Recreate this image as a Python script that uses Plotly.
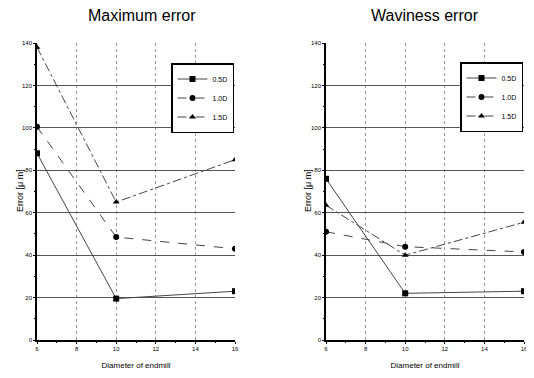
import plotly.graph_objects as go

diameters = [6, 10, 16]
series_names = ["0.5D", "1.0D", "1.5D"]

max_err_05 = [88, 19.5, 23]
max_err_10 = [100.5, 48.5, 43]
max_err_15 = [138, 65, 85]

wav_err_05 = [76, 22, 23]
wav_err_10 = [51, 44, 41.5]
wav_err_15 = [63.5, 40, 55.5]

y_ticks = [0, 20, 40, 60, 80, 100, 120, 140]
x_ticks = [6, 8, 10, 12, 14, 16]

symbols = ["square", "circle", "triangle-up"]
dashes = ["solid", "dash", "dashdot"]

# page body has an 8px margin; lay out in reference pixel coordinates
OFF = 8
W, H = 524, 378 - 2 * OFF


def px(x):
    return (x - OFF) / W


def py(y):
    return 1 - (y - OFF) / H


fig = go.Figure()

left = [max_err_05, max_err_10, max_err_15]
right = [wav_err_05, wav_err_10, wav_err_15]

for i, (name, vals) in enumerate(zip(series_names, left)):
    fig.add_trace(go.Scatter(
        x=diameters, y=vals, name=name, mode="lines+markers",
        line=dict(color="#444444", width=1, dash=dashes[i]),
        marker=dict(symbol=symbols[i], size=6, color="black"),
        xaxis="x", yaxis="y", legend="legend"))

for i, (name, vals) in enumerate(zip(series_names, right)):
    fig.add_trace(go.Scatter(
        x=diameters, y=vals, name=name, mode="lines+markers",
        line=dict(color="#444444", width=1, dash=dashes[i]),
        marker=dict(symbol=symbols[i], size=6, color="black"),
        xaxis="x2", yaxis="y2", legend="legend2"))

ydom = [py(340), py(43)]

axis_common = dict(
    showline=True, linecolor="black", linewidth=1.5, mirror=False,
    ticks="outside", ticklen=2, tickcolor="black",
    tickfont=dict(family="Liberation Sans", size=6, color="black"),
    zeroline=False, automargin=False, ticklabeloverflow="allow",
)

xcommon = dict(axis_common, range=[6, 16], tickvals=x_ticks,
               minor=dict(dtick=1, ticks="outside", ticklen=1.5, tickcolor="black", showgrid=False),
               showgrid=True, gridcolor="#999999", griddash="dot", gridwidth=1)
ycommon = dict(axis_common, range=[0, 140], tickvals=y_ticks,
               minor=dict(dtick=10, ticks="outside", ticklen=1.5, tickcolor="black", showgrid=False),
               showgrid=True, gridcolor="#555555", gridwidth=1)

title_font = dict(family="Liberation Sans", size=8, color="black")
legend_common = dict(xanchor="right", yanchor="top",
                     bgcolor="white", bordercolor="black", borderwidth=1.5,
                     font=dict(family="Liberation Sans", size=7, color="black"),
                     tracegroupgap=0, itemwidth=30)

ylab = dict(text="Error [μ m]", xref="paper", yref="paper", textangle=-90,
            xanchor="center", yanchor="middle", showarrow=False,
            font=dict(family="Liberation Sans", size=9, color="black"))

fig.update_layout(
    width=W, height=H,
    margin=dict(l=0, r=0, t=0, b=0, autoexpand=False),
    paper_bgcolor="white", plot_bgcolor="white",
    showlegend=True,
    xaxis=dict(xcommon, domain=[px(37), px(235)], anchor="y",
               title=dict(text="Diameter of endmill", font=title_font, standoff=12)),
    yaxis=dict(ycommon, domain=ydom, anchor="x"),
    xaxis2=dict(xcommon, domain=[px(326), px(524)], anchor="y2",
                title=dict(text="Diameter of endmill", font=title_font, standoff=12)),
    yaxis2=dict(ycommon, domain=ydom, anchor="x2"),
    legend=dict(legend_common, x=px(234), y=py(63)),
    legend2=dict(legend_common, x=px(523), y=py(62)),
    annotations=[
        dict(text="Maximum error", x=px(142), y=py(15), xref="paper", yref="paper",
             xanchor="center", yanchor="middle",
             showarrow=False, font=dict(family="Liberation Sans", size=16, color="black")),
        dict(text="Waviness error", x=px(425), y=py(15), xref="paper", yref="paper",
             xanchor="center", yanchor="middle",
             showarrow=False, font=dict(family="Liberation Sans", size=16, color="black")),
        dict(ylab, x=px(20), y=py(191)),
        dict(ylab, x=px(308), y=py(191)),
    ],
)

fig.write_html("out.html")
